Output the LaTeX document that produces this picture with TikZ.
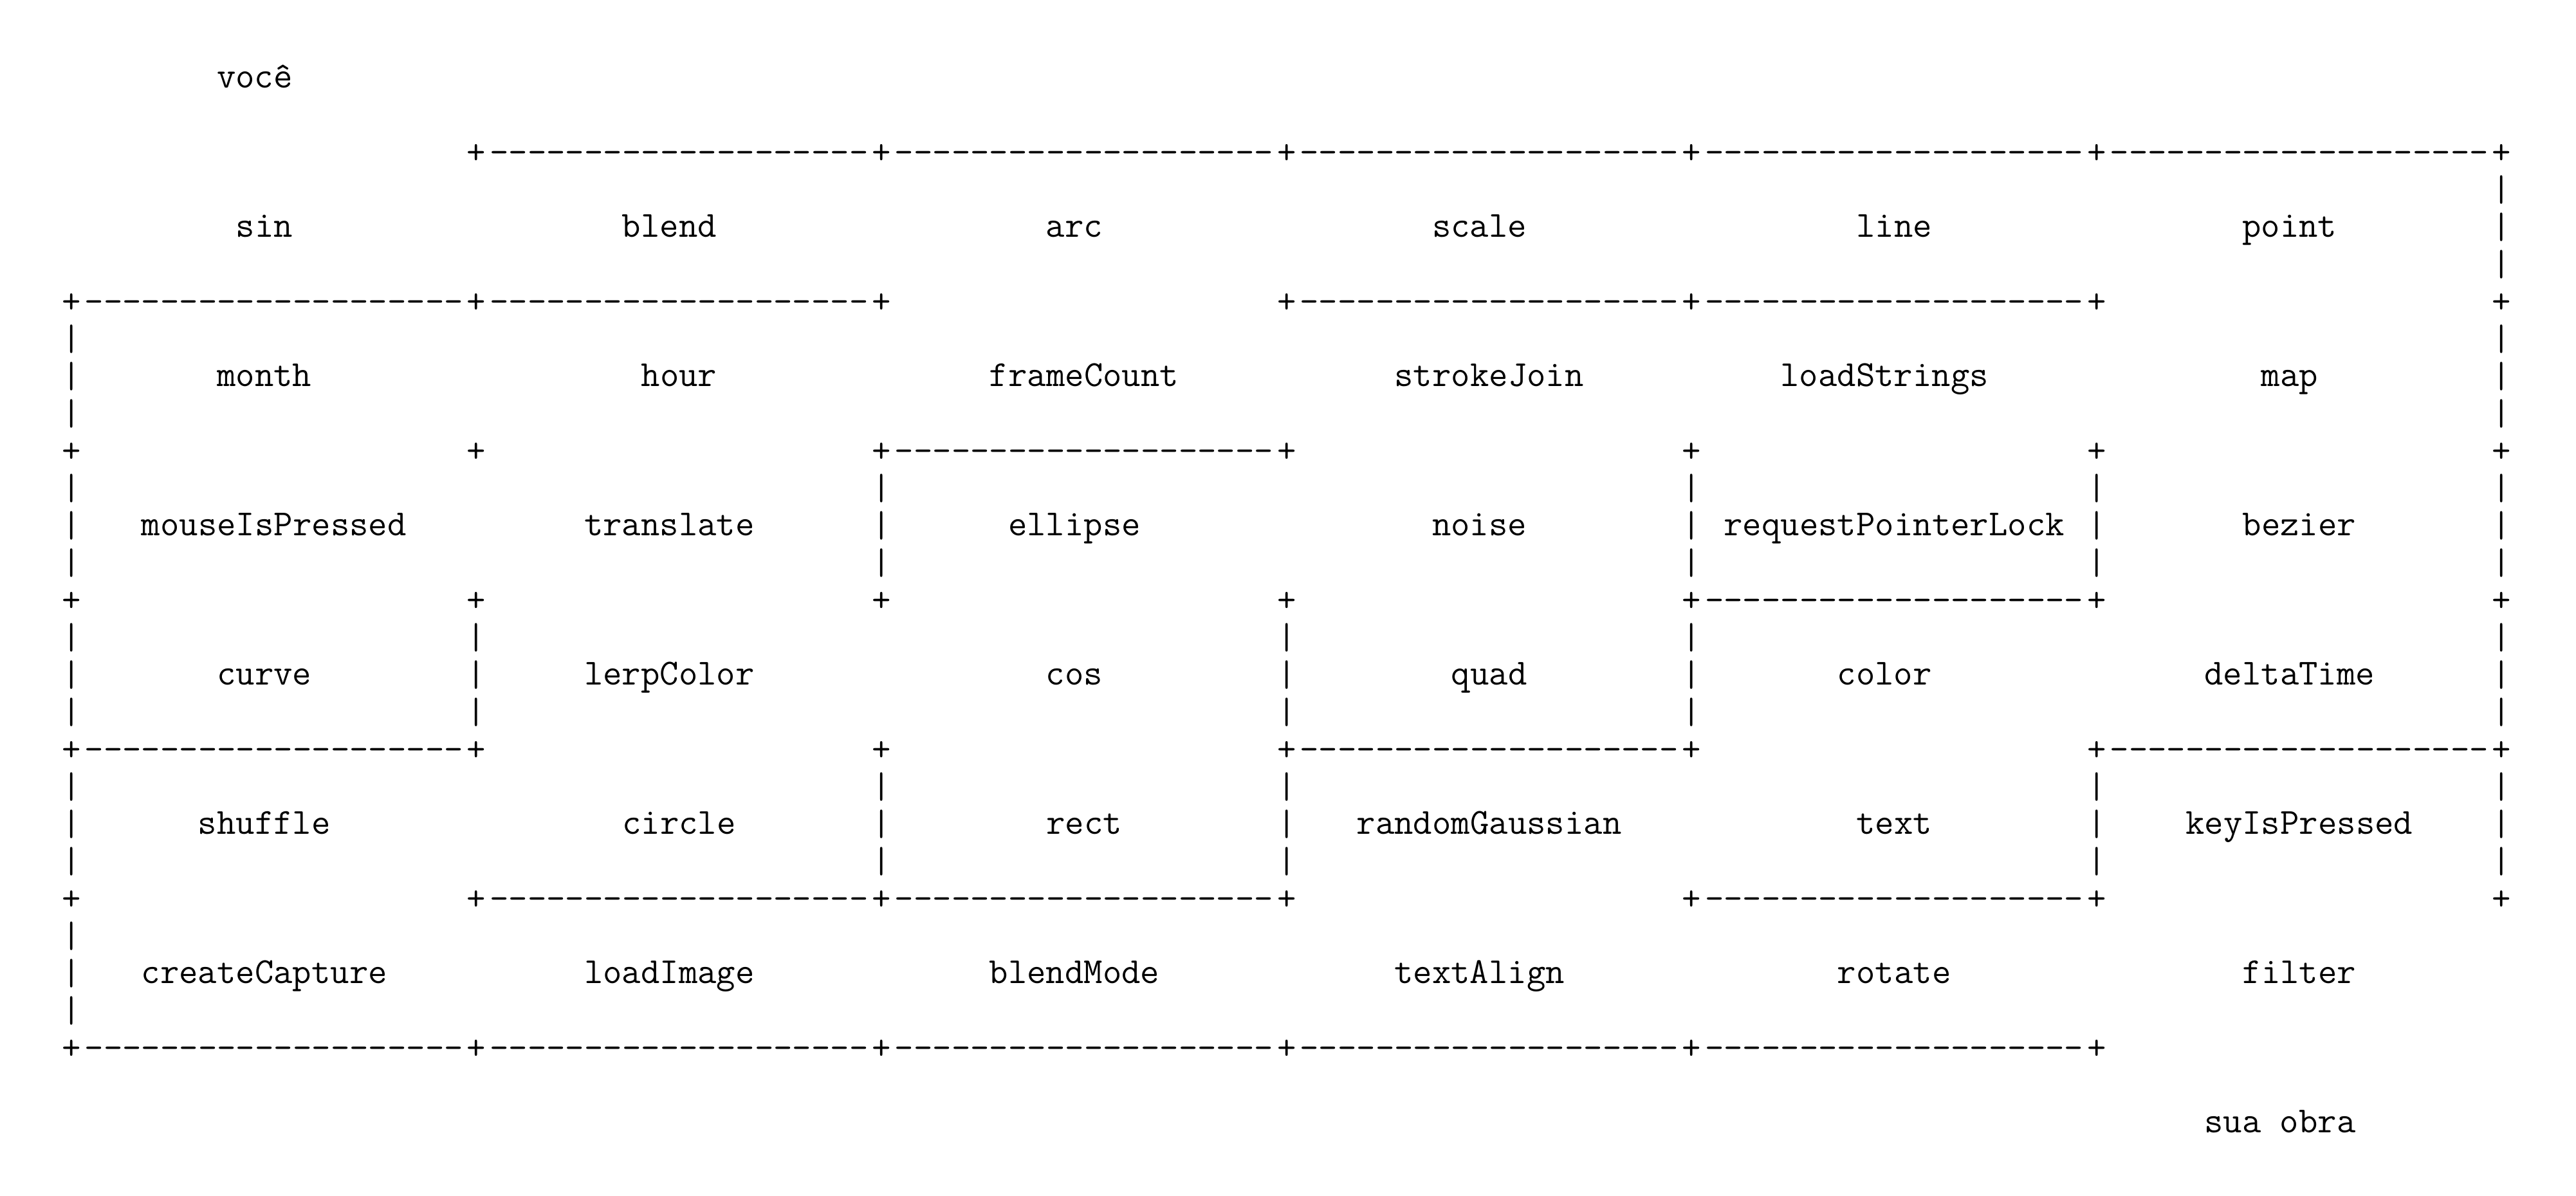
\documentclass[tikz,border=0pt]{standalone}
\usepackage{fontspec}
\setmonofont{Latin Modern Mono}
\begin{document}
\begin{tikzpicture}[x=7.495pt, y=-14.5pt,
  mono/.style={font=\fontsize{14.276pt}{17pt}\ttfamily, inner sep=0pt, outer sep=0pt, anchor=base},
  word/.style={mono},
  glyph/.style={mono, yshift=-0.6pt}]
\useasboundingbox (-3.703,-2.347) rectangle (129.85,29.692);
\foreach \l in {6,10,14,18,22} \foreach \k in {0,...,6} \node[glyph] (p-\l-\k) at (21*\k,\l) {+};
\foreach \k in {1,...,6} \node[glyph] (p-2-\k) at (21*\k,2) {+};
\foreach \k in {0,...,5} \node[glyph] (p-26-\k) at (21*\k,26) {+};
\foreach \l/\k in {2/1,2/2,2/3,2/4,2/5, 6/0,6/1,6/3,6/4, 10/2, 14/4, 18/0,18/3,18/5, 22/1,22/2,22/4, 26/0,26/1,26/2,26/3,26/4}
  \node[glyph] (h-\l-\k) at (21*\k+10.5,\l) {--------------------};
\foreach \r/\k in {0/6, 1/0,1/6, 2/0,2/2,2/4,2/5,2/6, 3/0,3/1,3/3,3/4,3/6, 4/0,4/2,4/3,4/5,4/6, 5/0}
  \foreach \i in {3,4,5} \node[glyph] (v-\r-\k-\i) at (21*\k,4*\r+\i) {|};
\node[word] (voce) at (9.5,0) {você};
\node[word] (sin) at (10,4) {sin};
\node[word] (blend) at (31,4) {blend};
\node[word] (arc) at (52,4) {arc};
\node[word] (scale) at (73,4) {scale};
\node[word] (line) at (94.5,4) {line};
\node[word] (point) at (115,4) {point};
\node[word] (month) at (10,8) {month};
\node[word] (hour) at (31.5,8) {hour};
\node[word] (frameCount) at (52.5,8) {frameCount};
\node[word] (strokeJoin) at (73.5,8) {strokeJoin};
\node[word] (loadStrings) at (94,8) {loadStrings};
\node[word] (map) at (115,8) {map};
\node[word] (mouseIsPressed) at (10.5,12) {mouseIsPressed};
\node[word] (translate) at (31,12) {translate};
\node[word] (ellipse) at (52,12) {ellipse};
\node[word] (noise) at (73,12) {noise};
\node[word] (requestPointerLock) at (94.5,12) {requestPointerLock};
\node[word] (bezier) at (115.5,12) {bezier};
\node[word] (curve) at (10,16) {curve};
\node[word] (lerpColor) at (31,16) {lerpColor};
\node[word] (cos) at (52,16) {cos};
\node[word] (quad) at (73.5,16) {quad};
\node[word] (color) at (94,16) {color};
\node[word] (deltaTime) at (115,16) {deltaTime};
\node[word] (shuffle) at (10,20) {shuffle};
\node[word] (circle) at (31.5,20) {circle};
\node[word] (rect) at (52.5,20) {rect};
\node[word] (randomGaussian) at (73.5,20) {randomGaussian};
\node[word] (text) at (94.5,20) {text};
\node[word] (keyIsPressed) at (115.5,20) {keyIsPressed};
\node[word] (createCapture) at (10,24) {createCapture};
\node[word] (loadImage) at (31,24) {loadImage};
\node[word] (blendMode) at (52,24) {blendMode};
\node[word] (textAlign) at (73,24) {textAlign};
\node[word] (rotate) at (94.5,24) {rotate};
\node[word] (filter) at (115.5,24) {filter};
\node[word] (suaobra) at (114.5,28) {sua obra};
\end{tikzpicture}
\end{document}
